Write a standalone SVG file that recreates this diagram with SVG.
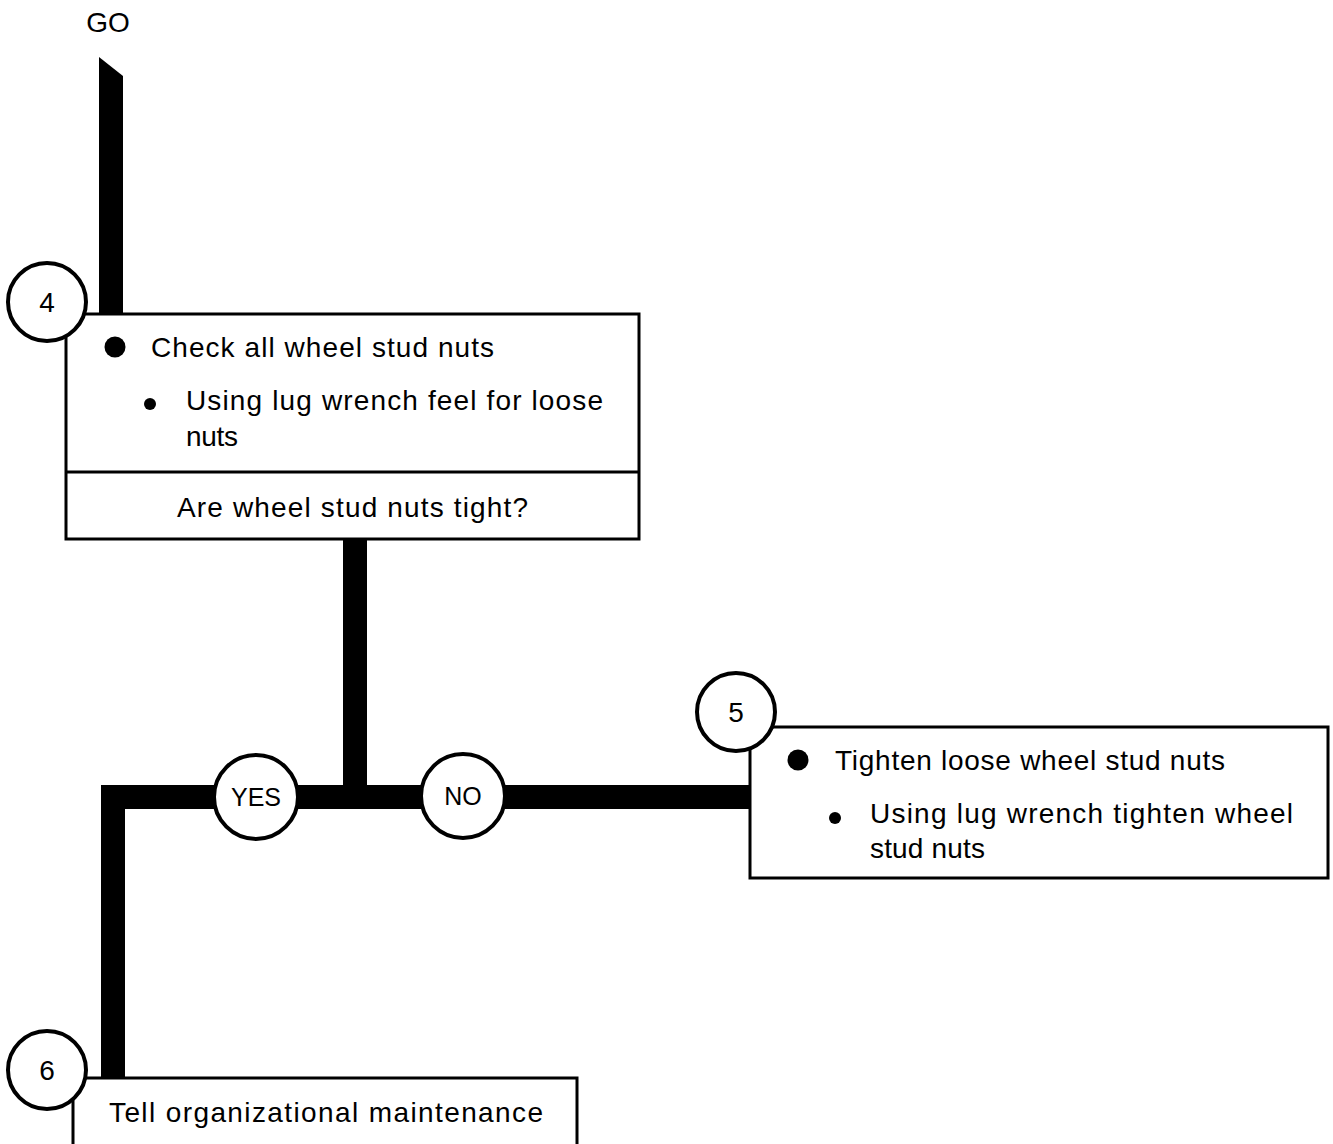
<svg xmlns="http://www.w3.org/2000/svg" width="1333" height="1144" viewBox="0 0 1333 1144">
<style>
.box{fill:#fff;stroke:#000;stroke-width:3}
.num{fill:#fff;stroke:#000;stroke-width:4}
.bar{fill:#000}
text{font-family:"Liberation Sans",Arial,sans-serif;fill:#000}
.t{font-size:28px}
.n{font-size:25px;text-anchor:middle}
.d{font-size:28px;text-anchor:middle}
</style>
<rect width="1333" height="1144" fill="#fff"/>
<text id="go" x="108" y="32" class="d">GO</text>
<g id="connectors">
<polygon class="bar" points="99,57 123,76 123,315 99,315"/>
<rect class="bar" x="343" y="538" width="24" height="257"/>
<rect class="bar" x="101" y="785" width="650" height="24"/>
<rect class="bar" x="101" y="785" width="24" height="295"/>
</g>
<g id="node4">
<rect class="box" x="66" y="314" width="573" height="225"/>
<line x1="66" y1="472" x2="639" y2="472" stroke="#000" stroke-width="3"/>
<circle cx="115" cy="347" r="10.5"/>
<text class="t" x="151" y="357" textLength="343" lengthAdjust="spacing">Check all wheel stud nuts</text>
<circle cx="150" cy="404" r="6"/>
<text class="t" x="186" y="410" textLength="417" lengthAdjust="spacing">Using lug wrench feel for loose</text>
<text class="t" x="186" y="446" textLength="52" lengthAdjust="spacing">nuts</text>
<text class="t" x="177" y="517" textLength="351" lengthAdjust="spacing">Are wheel stud nuts tight?</text>
<circle class="num" cx="47" cy="302" r="39"/>
<text class="d" x="47" y="312">4</text>
</g>
<g id="yes">
<circle class="num" cx="256" cy="797" r="42"/>
<text class="n" x="256" y="806">YES</text>
</g>
<g id="no">
<circle class="num" cx="463" cy="796" r="42"/>
<text class="n" x="463" y="805">NO</text>
</g>
<g id="node5">
<rect class="box" x="750" y="727" width="578" height="151"/>
<circle cx="798" cy="760" r="10.5"/>
<text class="t" x="835" y="770" textLength="390" lengthAdjust="spacing">Tighten loose wheel stud nuts</text>
<circle cx="835" cy="818" r="6"/>
<text class="t" x="870" y="823" textLength="423" lengthAdjust="spacing">Using lug wrench tighten wheel</text>
<text class="t" x="870" y="858" textLength="115" lengthAdjust="spacing">stud nuts</text>
<circle class="num" cx="736" cy="712" r="39"/>
<text class="d" x="736" y="722">5</text>
</g>
<g id="node6">
<rect class="box" x="73" y="1078" width="504" height="80"/>
<text class="t" x="109" y="1122" textLength="434" lengthAdjust="spacing">Tell organizational maintenance</text>
<circle class="num" cx="47" cy="1070" r="39"/>
<text class="d" x="47" y="1080">6</text>
</g>
</svg>
